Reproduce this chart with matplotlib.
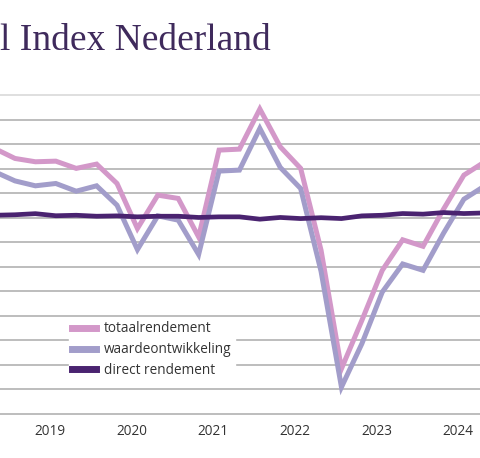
import matplotlib
matplotlib.use("Agg")
import matplotlib.pyplot as plt
import numpy as np

# quarterly series (index 0 = first full quarter visible, -1 = partly cut off)
quarter_idx = list(range(-1, 24))
totaalrendement = [9.64, 8.83, 8.56, 8.61, 8.02, 8.37, 6.79, 3.12, 5.84, 5.57, 2.43,
                   9.51, 9.59, 12.86, 9.78, 8.02, 1.35, -8.31, -4.37, -0.29, 2.20,
                   1.67, 4.69, 7.47, 8.53]
waardeontwikkeling = [7.75, 7.00, 6.60, 6.79, 6.16, 6.60, 5.02, 1.40, 4.15, 3.80, 1.00,
                      7.80, 7.88, 11.28, 8.10, 6.38, -0.37, -9.81, -6.27, -2.06, 0.23,
                      -0.29, 2.73, 5.51, 6.57]
direct_rendement = [4.20, 4.24, 4.33, 4.16, 4.20, 4.12, 4.15, 4.07, 4.12, 4.12, 4.02,
                    4.07, 4.07, 3.88, 4.02, 3.93, 4.00, 3.93, 4.15, 4.20, 4.34,
                    4.29, 4.42, 4.34, 4.39]
years = ['2019', '2020', '2021', '2022', '2023', '2024']
year_pos = [1.72 + 4 * k for k in range(len(years))]
grid_vals = list(range(-12, 16, 2))

c_tot = '#d398c9'
c_waarde = '#a29dca'
c_direct = '#4a2370'

fig = plt.figure(figsize=(4.8, 4.58), dpi=100)
ax = fig.add_axes([0.0, 0.0827, 1.0, 0.7232])

ax.plot(quarter_idx, totaalrendement, color=c_tot, lw=3.6, label='totaalrendement',
        solid_joinstyle='miter', zorder=3)
ax.plot(quarter_idx, waardeontwikkeling, color=c_waarde, lw=3.6, label='waardeontwikkeling',
        solid_joinstyle='miter', zorder=3)
ax.plot(quarter_idx, direct_rendement, color=c_direct, lw=3.4, label='direct rendement',
        zorder=4)

ax.set_xlim(-0.735, 22.79)
ax.set_ylim(-12.5, 14.5)
ax.set_yticks(grid_vals)
ax.set_yticklabels([])
ax.grid(axis='y', color='#ababab', lw=1.1)
ax.get_ygridlines()[-1].set_color('#d6d6d6')
ax.set_axisbelow(True)
ax.tick_params(axis='y', length=0)
ax.tick_params(axis='x', length=0, pad=3, labelsize=9.8, labelcolor='#333333')
ax.set_xticks(year_pos)
ax.set_xticklabels(years, fontfamily='Open Sans')
for s in ax.spines.values():
    s.set_visible(False)

leg = ax.legend(loc='upper left', bbox_to_anchor=(69 / 480, 1 - 318 / 458),
                bbox_transform=fig.transFigure, borderaxespad=0, frameon=True,
                fancybox=False, edgecolor='white', facecolor='white', framealpha=1,
                handlelength=1.75, handleheight=0.5, handletextpad=0.55, labelspacing=0.42,
                borderpad=0.25, prop={'family': 'Open Sans', 'size': 9.8})
for h in leg.get_lines():
    h.set_linewidth(5)
for t in leg.get_texts():
    t.set_color('#333333')

fig.text(-0.5 / 480, 1 - 50 / 458, 'l Index Nederland', fontfamily='Liberation Serif',
         fontsize=27, color='#3f2a5c', ha='left', va='baseline')

fig.savefig('out.png', dpi=100)
